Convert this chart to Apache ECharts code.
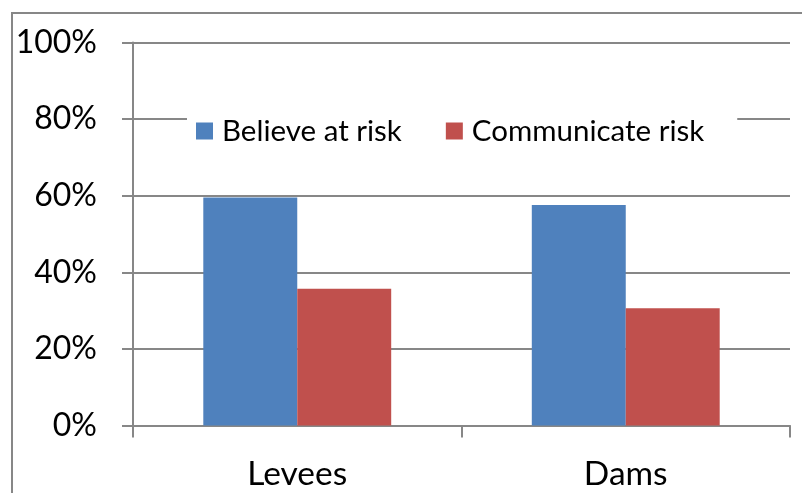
<!DOCTYPE html>
<html>
<head>
<meta charset="utf-8">
<script src="https://cdn.jsdelivr.net/npm/echarts@6/dist/echarts.min.js"></script>
<style>
  html, body { margin: 0; padding: 0; background: #fff; }
  #main { width: 802px; height: 493px; }
</style>
</head>
<body>
<div id="main"></div>
<script>
var categories = ['Levees', 'Dams'];
var believeAtRisk = [59.5, 57.6];
var communicateRisk = [35.7, 30.6];
var yTicks = [0, 20, 40, 60, 80, 100];

var chartDom = document.getElementById('main');
var myChart = echarts.init(chartDom);
var axisGray = '#878787';
var font = 'Lato';

var option = {
    animation: false,
    backgroundColor: '#fff',
    textStyle: { fontFamily: font },
    graphic: [{
        type: 'rect',
        shape: { x: 12, y: 13, width: 820, height: 520 },
        style: { fill: 'none', stroke: axisGray, lineWidth: 2 },
        silent: true
    }],
    grid: { left: 133, right: 12, top: 42.5, bottom: 67.5 },
    legend: {
        left: 187,
        top: 101,
        padding: [15, 33, 15, 9],
        backgroundColor: '#fff',
        icon: 'rect',
        itemWidth: 17,
        itemHeight: 17,
        itemGap: 44,
        textStyle: { fontFamily: font, fontSize: 29.5, color: '#000', padding: [0, 0, 0, 4] },
        data: ['Believe at risk', 'Communicate risk']
    },
    xAxis: {
        type: 'category',
        data: categories,
        axisLine: { lineStyle: { color: axisGray, width: 2 } },
        axisTick: { show: true, alignWithLabel: false, length: 12, lineStyle: { color: axisGray, width: 2 } },
        axisLabel: { color: '#000', fontSize: 33.5, fontFamily: font, margin: 32 }
    },
    yAxis: {
        type: 'value',
        min: 0,
        max: 100,
        interval: 20,
        axisLine: { show: true, lineStyle: { color: axisGray, width: 2 } },
        axisTick: { show: true, length: 11, lineStyle: { color: axisGray, width: 2 } },
        splitLine: { lineStyle: { color: axisGray, width: 2 } },
        axisLabel: {
            color: '#000', fontSize: 32, fontFamily: font, margin: 36,
            formatter: function (v) { return yTicks.indexOf(v) >= 0 ? v + '%' : ''; }
        }
    },
    series: [
        {
            name: 'Believe at risk',
            type: 'bar',
            data: believeAtRisk,
            barGap: 0,
            barCategoryGap: '42.8%',
            itemStyle: { color: '#4F81BD' }
        },
        {
            name: 'Communicate risk',
            type: 'bar',
            data: communicateRisk,
            itemStyle: { color: '#C0504D' }
        }
    ]
};

myChart.setOption(option);
</script>
</body>
</html>
